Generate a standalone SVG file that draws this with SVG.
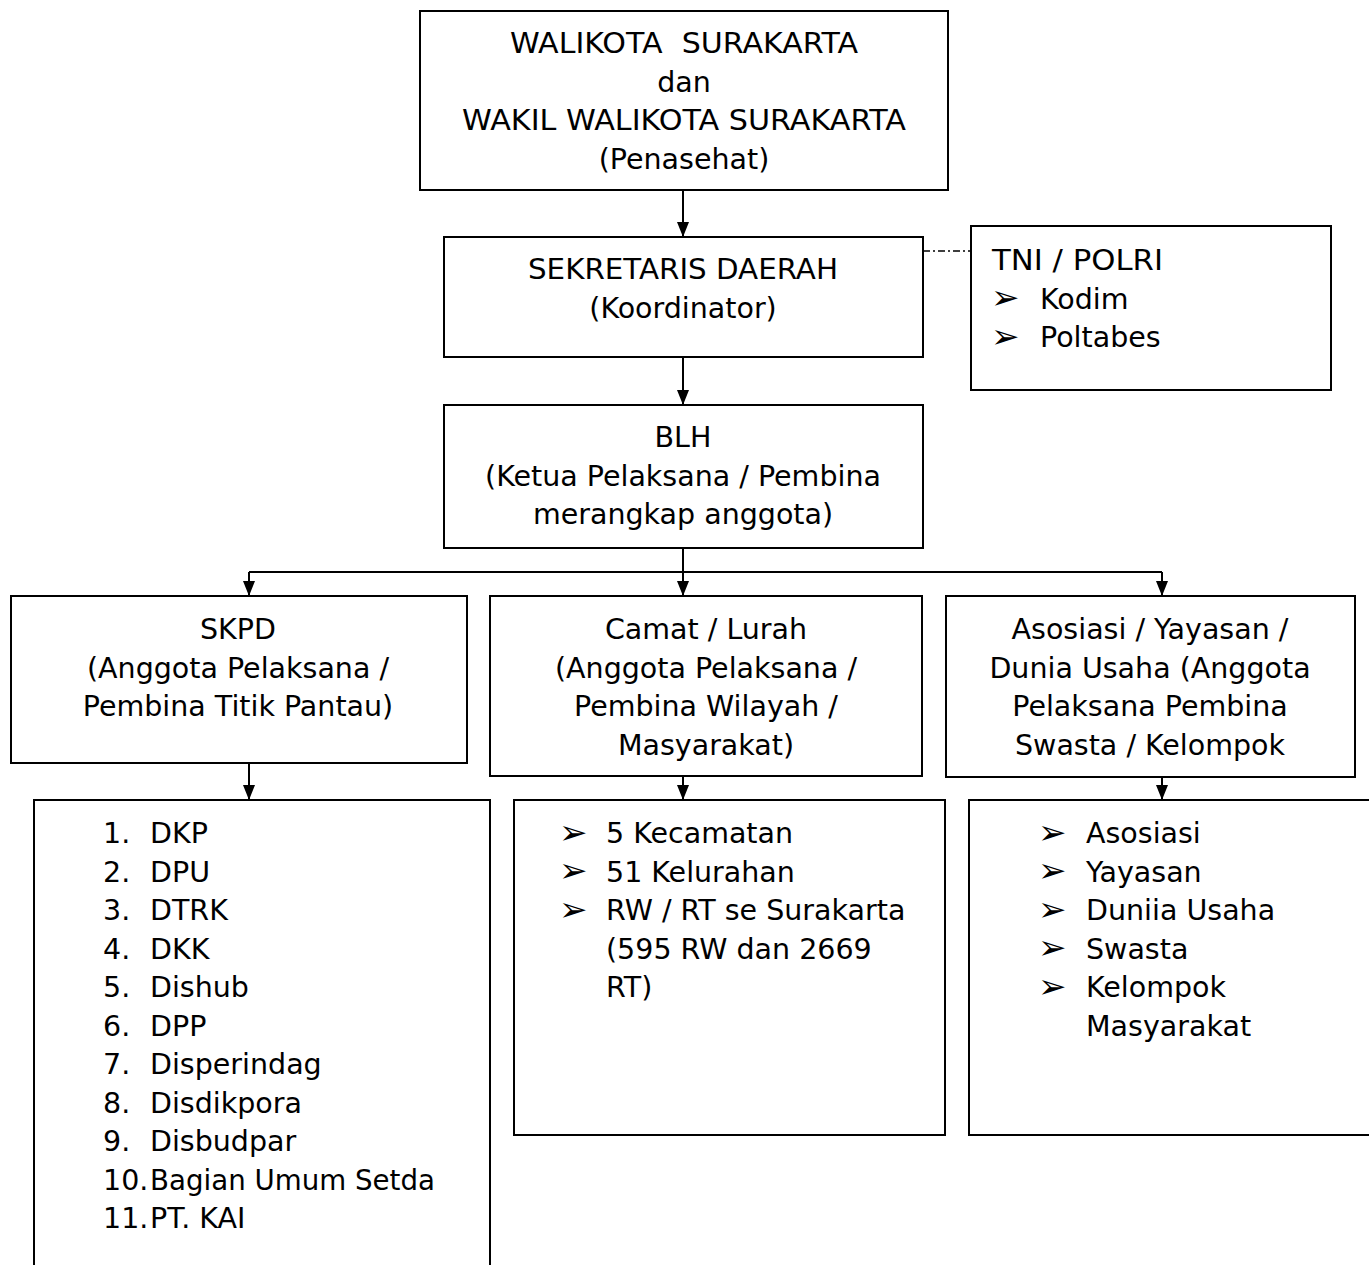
<svg xmlns="http://www.w3.org/2000/svg" width="1369" height="1265" viewBox="0 0 1369 1265">
<style>
.box{fill:#fff;stroke:#000;stroke-width:2}
.t{font-family:"DejaVu Sans",Verdana,sans-serif;font-size:28.5px;fill:#000;white-space:pre}
.c{text-anchor:middle}
.b{font-size:34px}
.ln{stroke:#000;stroke-width:2;fill:none}
.ah{fill:#000}
</style>
<rect width="1369" height="1265" fill="#fff"/>
<g id="connectors">
<path class="ln" d="M683,190 V236"/>
<path class="ah" d="M677,222 L689,222 L683,237 Z"/>
<path class="ln" d="M683,357 V404"/>
<path class="ah" d="M677,390 L689,390 L683,405 Z"/>
<path class="ln" d="M683,548 V595"/>
<path class="ln" d="M249,572 H1162"/>
<path class="ln" d="M249,572 V595"/>
<path class="ln" d="M1162,572 V595"/>
<path class="ah" d="M243,581 L255,581 L249,596 Z"/>
<path class="ah" d="M677,581 L689,581 L683,596 Z"/>
<path class="ah" d="M1156,581 L1168,581 L1162,596 Z"/>
<path class="ln" d="M249,763 V799"/>
<path class="ah" d="M243,785 L255,785 L249,800 Z"/>
<path class="ln" d="M683,776 V799"/>
<path class="ah" d="M677,785 L689,785 L683,800 Z"/>
<path class="ln" d="M1162,777 V799"/>
<path class="ah" d="M1156,785 L1168,785 L1162,800 Z"/>
<path d="M923,251 H971" stroke="#000" stroke-width="1.5" stroke-dasharray="7,3,2,3" fill="none"/>
</g>
<g id="walikota">
<rect class="box" x="420" y="11" width="528" height="179"/>
<text class="t c" x="684" y="53" textLength="348" lengthAdjust="spacingAndGlyphs" xml:space="preserve">WALIKOTA  SURAKARTA</text>
<text class="t c" x="684" y="91.5">dan</text>
<text class="t c" x="684" y="130" textLength="444" lengthAdjust="spacingAndGlyphs">WAKIL WALIKOTA SURAKARTA</text>
<text class="t c" x="684" y="168.5">(Penasehat)</text>
</g>
<g id="sekda">
<rect class="box" x="444" y="237" width="479" height="120"/>
<text class="t c" x="683" y="279" textLength="310" lengthAdjust="spacingAndGlyphs">SEKRETARIS DAERAH</text>
<text class="t c" x="683" y="317.5">(Koordinator)</text>
</g>
<g id="tni">
<rect class="box" x="971" y="226" width="360" height="164"/>
<text class="t" x="992" y="270" textLength="171" lengthAdjust="spacingAndGlyphs">TNI / POLRI</text>
<text class="t b" x="991" y="309">➢</text>
<text class="t" x="1040" y="308.5">Kodim</text>
<text class="t b" x="991" y="347.5">➢</text>
<text class="t" x="1040" y="347">Poltabes</text>
</g>
<g id="blh">
<rect class="box" x="444" y="405" width="479" height="143"/>
<text class="t c" x="683" y="447">BLH</text>
<text class="t c" x="683" y="485.5">(Ketua Pelaksana / Pembina</text>
<text class="t c" x="683" y="524">merangkap anggota)</text>
</g>
<g id="skpd">
<rect class="box" x="11" y="596" width="456" height="167"/>
<text class="t c" x="238" y="639">SKPD</text>
<text class="t c" x="238" y="677.5">(Anggota Pelaksana /</text>
<text class="t c" x="238" y="716">Pembina Titik Pantau)</text>
</g>
<g id="camat">
<rect class="box" x="490" y="596" width="432" height="180"/>
<text class="t c" x="706" y="639">Camat / Lurah</text>
<text class="t c" x="706" y="677.5">(Anggota Pelaksana /</text>
<text class="t c" x="706" y="716">Pembina Wilayah /</text>
<text class="t c" x="706" y="754.5">Masyarakat)</text>
</g>
<g id="asosiasi">
<rect class="box" x="946" y="596" width="409" height="181"/>
<text class="t c" x="1150" y="639">Asosiasi / Yayasan /</text>
<text class="t c" x="1150" y="677.5">Dunia Usaha (Anggota</text>
<text class="t c" x="1150" y="716">Pelaksana Pembina</text>
<text class="t c" x="1150" y="754.5">Swasta / Kelompok</text>
</g>
<g id="list-skpd">
<path class="ln" d="M34,1266 V800 H490 V1266"/>
<text class="t" x="103" y="843">1.</text><text class="t" x="150" y="843">DKP</text>
<text class="t" x="103" y="881.5">2.</text><text class="t" x="150" y="881.5">DPU</text>
<text class="t" x="103" y="920">3.</text><text class="t" x="150" y="920">DTRK</text>
<text class="t" x="103" y="958.5">4.</text><text class="t" x="150" y="958.5">DKK</text>
<text class="t" x="103" y="997">5.</text><text class="t" x="150" y="997">Dishub</text>
<text class="t" x="103" y="1035.5">6.</text><text class="t" x="150" y="1035.5">DPP</text>
<text class="t" x="103" y="1074">7.</text><text class="t" x="150" y="1074">Disperindag</text>
<text class="t" x="103" y="1112.5">8.</text><text class="t" x="150" y="1112.5">Disdikpora</text>
<text class="t" x="103" y="1151">9.</text><text class="t" x="150" y="1151">Disbudpar</text>
<text class="t" x="103" y="1189.5">10.</text><text class="t" x="150" y="1189.5" textLength="285" lengthAdjust="spacingAndGlyphs">Bagian Umum Setda</text>
<text class="t" x="103" y="1228">11.</text><text class="t" x="150" y="1228">PT. KAI</text>
</g>
<g id="list-camat">
<rect class="box" x="514" y="800" width="431" height="335"/>
<text class="t b" x="559" y="843.5">➢</text><text class="t" x="606" y="843">5 Kecamatan</text>
<text class="t b" x="559" y="882">➢</text><text class="t" x="606" y="881.5">51 Kelurahan</text>
<text class="t b" x="559" y="920.5">➢</text><text class="t" x="606" y="920">RW / RT se Surakarta</text>
<text class="t" x="606" y="958.5">(595 RW dan 2669</text>
<text class="t" x="606" y="997">RT)</text>
</g>
<g id="list-asosiasi">
<rect class="box" x="969" y="800" width="410" height="335"/>
<text class="t b" x="1038" y="843.5">➢</text><text class="t" x="1086" y="843">Asosiasi</text>
<text class="t b" x="1038" y="882">➢</text><text class="t" x="1086" y="881.5">Yayasan</text>
<text class="t b" x="1038" y="920.5">➢</text><text class="t" x="1086" y="920">Duniia Usaha</text>
<text class="t b" x="1038" y="959">➢</text><text class="t" x="1086" y="958.5">Swasta</text>
<text class="t b" x="1038" y="997.5">➢</text><text class="t" x="1086" y="997">Kelompok</text>
<text class="t" x="1086" y="1035.5">Masyarakat</text>
</g>
</svg>
